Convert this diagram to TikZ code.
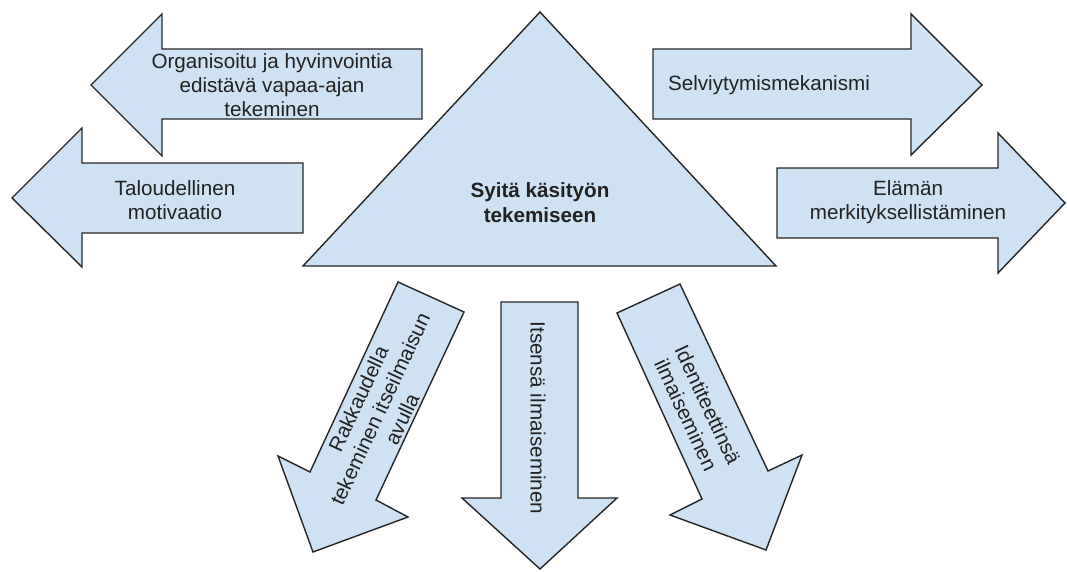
\documentclass[tikz,border=0pt]{standalone}
\usepackage{fontspec}
\setmainfont{Liberation Sans}
\usepackage{tikz}
\definecolor{arrowfill}{HTML}{CFE2F3}
\definecolor{inkcolor}{HTML}{222222}

\begin{document}
\begin{tikzpicture}[
    x=0.02cm, y=-0.02cm,
    blockarrow/.style={draw=black!85, fill=arrowfill, line width=0.8pt, line join=miter},
    txt/.style={font=\fontsize{11.75}{13.7}\selectfont, text=inkcolor, align=center, inner sep=0pt},
    titletxt/.style={txt, font=\fontsize{11.75}{14.2}\selectfont\bfseries}
]
    \useasboundingbox (0,0) rectangle (1067,571);

    % Centre triangle
    \draw[blockarrow] (540,12) -- (776,266) -- (303,266) -- cycle;
    \node[titletxt] (reasons) at (540,203) {Syitä käsityön\\tekemiseen};

    % Arrows to the left
    \draw[blockarrow] (422,49) -- (162,49) -- (162,14) -- (91,85) -- (162,156) -- (162,119) -- (422,119) -- cycle;
    \draw[blockarrow] (303,163) -- (82,163) -- (82,128) -- (12,198) -- (82,267) -- (82,233) -- (303,233) -- cycle;

    % Arrows to the right
    \draw[blockarrow] (653,49) -- (911,49) -- (911,14) -- (982,85) -- (911,155) -- (911,119) -- (653,119) -- cycle;
    \draw[blockarrow] (777,168) -- (998,168) -- (998,133) -- (1065,203) -- (998,273) -- (998,238) -- (777,238) -- cycle;

    % Arrows downwards
    \draw[blockarrow] (398,282) -- (464,312) -- (376,500) -- (408,517) -- (313,552) -- (278,456) -- (310,472) -- cycle;
    \draw[blockarrow] (501,302) -- (578,302) -- (578,498) -- (617,498) -- (540,569) -- (462,498) -- (501,498) -- cycle;
    \draw[blockarrow] (617,313) -- (680,284) -- (768,471) -- (802,455) -- (766,550) -- (670,515) -- (702,499) -- cycle;

    % Labels
    \node[txt] (leisure) at (272,85) {Organisoitu ja hyvinvointia\\edistävä vapaa-ajan\\tekeminen};
    \node[txt] (money) at (175,200) {Taloudellinen\\motivaatio};
    \node[txt] (coping) at (769,85) {Selviytymismekanismi};
    \node[txt] (meaning) at (908,202) {Elämän\\merkityksellistäminen};
    \node[txt, rotate=65] (love) at (380,409) {Rakkaudella\\tekeminen itseilmaisun\\avulla};
    \node[txt, rotate=-90] (express) at (538,418) {Itsensä ilmaiseminen};
    \node[txt, rotate=-65] (identity) at (697,410) {Identiteettinsä\\ilmaiseminen};
\end{tikzpicture}
\end{document}
